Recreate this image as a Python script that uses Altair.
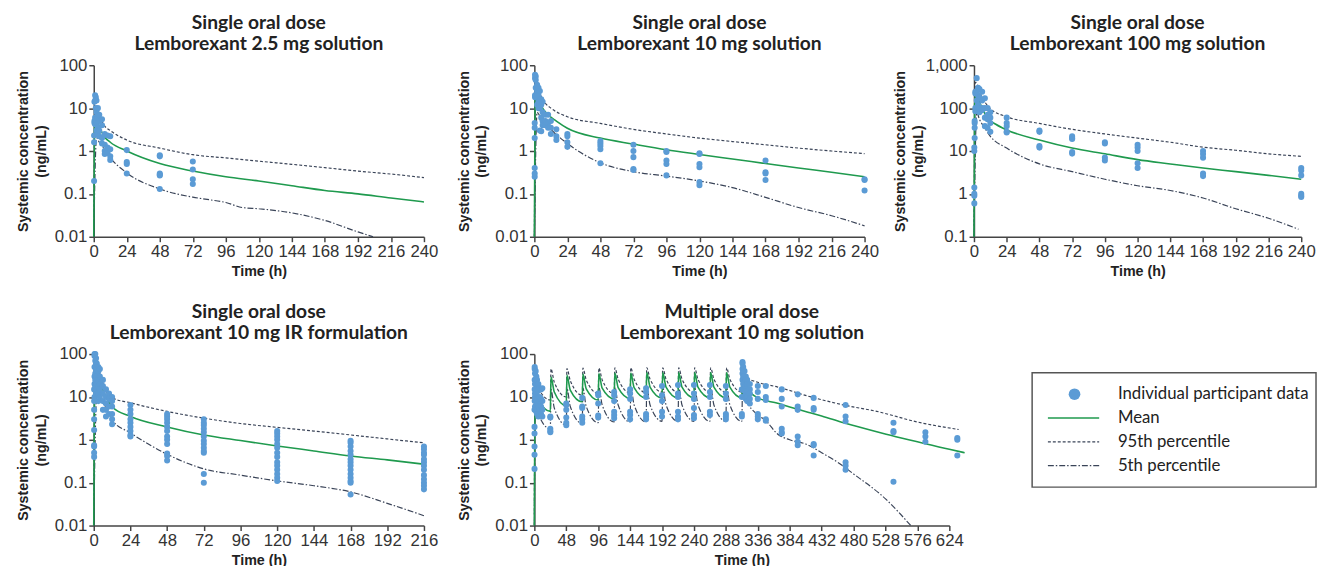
import altair as alt
import pandas as pd

BLUE = "#5b9bd5"
GREEN = "#1f9a4e"
DARK = "#3a4458"
DASH95 = [3, 2]
DASH5 = [6, 2, 1.5, 2]
LABEL_FONT = "Liberation Sans"
TITLE_FONT = "Lato"

# ---------------- Panel 1: 2.5 mg solution ----------------
P1_PT_T = [0.25, 0.5, 1, 1.5, 2, 3, 4, 6, 8, 10, 12, 24, 48, 72]
P1_PT_C = [
    [0.2, 1.6, 2.3], [5, 14, 4.5], [20, 15, 6, 4.2], [18, 10, 5.5],
    [15, 8, 4.5, 3], [10, 6, 3.5, 2.5], [7, 5, 3, 2.2], [5.5, 4, 2, 1.5],
    [2.5, 1.4, 1.0, 0.85], [2.3, 1.2, 0.9], [2.2, 1.1, 0.75, 0.62],
    [1.05, 0.55, 0.5, 0.3], [0.8, 0.75, 0.3, 0.28, 0.27, 0.13], [0.57, 0.37, 0.22, 0.17],
]
P1_MEAN_T = [0, 0.5, 1, 2, 4, 8, 12, 24, 48, 72, 96, 120, 144, 168, 192, 216, 240]
P1_MEAN_C = [0.01, 3, 5, 4.8, 3.6, 2.1, 1.6, 1.0, 0.51, 0.34, 0.25, 0.2, 0.155, 0.12, 0.1, 0.08, 0.065]
P1_P95_T = [0, 1, 2, 4, 8, 12, 24, 48, 72, 96, 120, 144, 168, 192, 216, 240]
P1_P95_C = [0.01, 10, 9, 6.5, 3.8, 3.0, 1.8, 1.17, 0.82, 0.69, 0.58, 0.49, 0.41, 0.34, 0.29, 0.24]
P1_P5_T = [0, 2, 4, 8, 12, 24, 48, 72, 84, 96, 108, 120, 144, 168, 192, 203]
P1_P5_C = [0.01, 2.0, 1.6, 1.07, 0.7, 0.31, 0.13, 0.084, 0.073, 0.063, 0.048, 0.045, 0.036, 0.024, 0.013, 0.01]

# ---------------- Panel 2: 10 mg solution ----------------
P2_PT_T = [0.25, 0.5, 1, 2, 3, 4, 5, 6, 8, 10, 12, 16, 24, 48, 72, 96, 120, 168, 240]
P2_PT_C = [
    [0.25, 0.3, 0.4, 2, 3.5, 4.5], [18, 50, 60, 20], [55, 45, 30, 20], [35, 25, 18, 12],
    [30, 20, 14, 10], [25, 15, 10, 3], [16, 12, 6, 2.9], [14, 8, 5, 4], [7, 5, 4],
    [7, 4.5, 3.5], [5, 3.5, 2.5], [3.2, 2.2, 1.8], [2.5, 2.2, 1.6, 1.25],
    [1.7, 1.5, 1.3, 1.1, 0.52], [1.4, 1.0, 0.72, 0.38, 0.36], [1.0, 0.95, 0.6, 0.5, 0.27],
    [0.88, 0.85, 0.5, 0.42, 0.19, 0.16], [0.6, 0.32, 0.3, 0.21], [0.22, 0.21, 0.12],
]
P2_MEAN_T = [0, 0.5, 1, 2, 4, 6, 10, 16, 24, 48, 72, 96, 120, 144, 168, 192, 216, 240]
P2_MEAN_C = [0.01, 15, 22, 20, 14, 10, 7, 5, 3.4, 2.0, 1.45, 1.07, 0.83, 0.65, 0.51, 0.4, 0.32, 0.25]
P2_P95_T = [0, 1, 2, 4, 8, 12, 24, 48, 72, 96, 120, 144, 168, 192, 216, 240]
P2_P95_C = [0.01, 40, 35, 22, 13, 10, 6.3, 4.4, 3.2, 2.5, 2.0, 1.66, 1.4, 1.17, 1.0, 0.87]
P2_P5_T = [0, 2, 4, 8, 12, 24, 48, 72, 96, 120, 144, 168, 192, 216, 240]
P2_P5_C = [0.01, 8, 6.5, 4.5, 3.2, 1.5, 0.53, 0.33, 0.26, 0.2, 0.14, 0.083, 0.048, 0.031, 0.018]

# ---------------- Panel 3: 100 mg solution ----------------
P3_PT_T = [0.25, 0.5, 1, 2, 3, 4, 6, 8, 10, 12, 24, 48, 72, 96, 120, 168, 240]
P3_PT_C = [
    [0.6, 0.9, 1.0, 1.4, 10, 12], [20, 35, 45, 50], [100, 220, 240, 85], [500, 250, 150, 90],
    [300, 200, 120, 85], [280, 180, 100, 80], [240, 150, 100, 90], [170, 100, 60, 38],
    [100, 70, 55, 35], [80, 60, 45, 28], [60, 45, 38, 28, 27], [30, 28, 13, 12],
    [22, 20, 19, 9.5, 8.7], [16, 15, 7, 6], [14, 12, 10, 5.2, 4], [10, 8.5, 7, 3, 2.6],
    [4, 3.5, 2.7, 1.0, 0.9, 0.85],
]
P3_MEAN_T = [0, 0.5, 1, 2, 4, 6, 10, 16, 24, 48, 72, 96, 120, 144, 168, 192, 216, 240]
P3_MEAN_C = [0.1, 120, 200, 190, 140, 100, 58, 42, 31, 18, 11.7, 8.6, 6.3, 5.0, 4.0, 3.3, 2.7, 2.2]
P3_P95_T = [0, 1, 2, 4, 8, 12, 24, 48, 72, 96, 120, 144, 168, 192, 216, 240]
P3_P95_C = [0.1, 400, 380, 250, 140, 97, 63, 44, 32, 25, 20, 16, 12.3, 10.4, 8.6, 7.5]
P3_P5_T = [0, 2, 4, 8, 12, 24, 48, 72, 96, 120, 144, 168, 192, 216, 238]
P3_P5_C = [0.1, 80, 55, 34, 22, 11.7, 5.0, 3.3, 2.2, 1.55, 1.2, 0.8, 0.45, 0.27, 0.15]

# ---------------- Panel 4: 10 mg IR formulation ----------------
P4_PT_T = [0.25, 0.5, 1, 1.5, 2, 3, 4, 6, 8, 10, 12, 24, 48, 72, 120, 168, 216]
P4_PT_C = [
    [0.4, 0.5, 0.7, 0.75, 1.7, 3, 5, 8, 15], [10, 20, 30, 50, 90, 100],
    [100, 70, 50, 35, 25, 18], [80, 60, 40, 20, 12], [60, 45, 30, 20, 15],
    [50, 40, 25, 18, 12, 8], [45, 30, 20, 15, 10], [25, 18, 12, 8, 5],
    [15, 10, 7, 5, 3.5], [12, 9, 6, 4], [10, 8, 6, 4, 3, 2.3],
    [6.5, 5, 4, 3, 2.5, 2, 1.6, 1.3, 1.2],
    [4, 3.5, 3, 2.5, 2, 1.6, 1.2, 1.0, 0.8, 0.48, 0.42, 0.33],
    [3, 2.5, 2.2, 1.8, 1.5, 1.2, 0.95, 0.8, 0.65, 0.55, 0.5, 0.16, 0.1],
    [1.6, 1.4, 1.2, 1.0, 0.8, 0.65, 0.5, 0.4, 0.3, 0.25, 0.2, 0.16, 0.13, 0.11],
    [0.95, 0.85, 0.7, 0.55, 0.45, 0.35, 0.3, 0.25, 0.2, 0.16, 0.13, 0.11, 0.1, 0.053],
    [0.7, 0.6, 0.5, 0.45, 0.35, 0.3, 0.25, 0.2, 0.15, 0.12, 0.1, 0.085, 0.07],
]
P4_MEAN_T = [0, 0.5, 1, 2, 4, 8, 12, 24, 48, 72, 96, 120, 144, 168, 192, 216]
P4_MEAN_C = [0.01, 30, 40, 35, 22, 10, 5.9, 3.5, 2.0, 1.3, 0.96, 0.72, 0.55, 0.42, 0.34, 0.27]
P4_P95_T = [0, 1, 2, 4, 8, 12, 24, 48, 72, 96, 120, 144, 168, 192, 216]
P4_P95_C = [0.01, 80, 65, 35, 14, 9.6, 7.3, 4.6, 3.2, 2.4, 1.95, 1.6, 1.3, 1.05, 0.85]
P4_P5_T = [0, 2, 4, 8, 12, 24, 48, 72, 96, 120, 144, 168, 192, 216]
P4_P5_C = [0.01, 12, 9.6, 5.5, 2.9, 1.45, 0.46, 0.21, 0.15, 0.11, 0.085, 0.061, 0.033, 0.017]

# ---------------- Panel 5: multiple dose 10 mg solution ----------------
MD_DOSE_T = [0, 24, 48, 72, 96, 120, 144, 168, 192, 216, 240, 264, 288, 312]
MD_MEAN_PRE = [0.01, 4.6, 6.2, 7.7, 8.5, 9.0, 9.2, 9.4, 9.5, 9.5, 9.6, 9.6, 9.6, 9.6]
MD_MEAN_PEAK = [22, 29, 32, 34, 35, 36, 36, 37, 37, 37, 37, 37, 37, 38]
MD_MEAN_MID = [9, 13, 14.5, 15.5, 16, 16.5, 16.5, 17, 17, 17, 17, 17, 17]
MD_MEAN_WASH_T = [317, 336, 366, 384, 416, 432, 465, 480, 529, 576, 624, 647]
MD_MEAN_WASH_C = [20, 9.5, 7.1, 5.8, 4.2, 3.6, 2.5, 2.15, 1.35, 0.9, 0.6, 0.5]

MD_P95_PRE = [0.01, 8.5, 10, 11, 12, 12, 12.5, 12.5, 13, 13, 13, 13, 13, 13]
MD_P95_PEAK = [40, 45, 46, 47, 47, 48, 48, 48, 48, 48, 48, 48, 48, 48]
MD_P95_MID = [16, 22, 24, 25, 25, 26, 26, 26, 26, 26, 26, 26, 26]
MD_P95_WASH_T = [318, 336, 366, 416, 465, 515, 576, 638]
MD_P95_WASH_C = [29, 22, 17, 10, 6.5, 4.6, 2.6, 1.74]

MD_P5_PRE = [0.01, 1.8, 2.2, 2.4, 2.5, 2.6, 2.6, 2.6, 2.7, 2.7, 2.7, 2.7, 2.7, 2.7]
MD_P5_PEAK = [12, 15, 16, 16, 17, 17, 17, 17, 17, 17, 17, 17, 17, 17]
MD_P5_MID = [4, 5.5, 6, 6, 6.5, 6.5, 6.5, 6.5, 6.5, 6.5, 6.5, 6.5, 6.5]
MD_P5_WASH_T = [317, 336, 347, 366, 384, 408, 432, 456, 480, 528, 566]
MD_P5_WASH_C = [10, 3.8, 2.9, 1.35, 1.0, 0.8, 0.5, 0.3, 0.16, 0.042, 0.01]

P5_PT_T = [0.25, 0.5, 1, 2, 3, 4, 6, 8, 10, 12, 24, 48, 72, 96, 120, 144, 168, 192, 216,
           240, 264, 288, 312, 313, 314, 316, 318, 320, 324, 336, 348, 372, 396, 420, 468,
           540, 588, 636]
P5_PT_C = [
    [0.21, 0.45, 0.7, 1.4, 2.0, 5], [8, 15, 25, 45, 50], [35, 20, 12, 10, 6],
    [40, 25, 15, 9, 5], [30, 20, 12, 8, 4.5], [25, 15, 10, 7, 4], [20, 14, 9, 6, 3.5],
    [16, 10, 8, 5], [15, 9, 6, 4], [16, 8, 5, 3.5],
    [3.5, 3.3, 1.8, 1.6, 1.5], [7, 6.5, 5, 3.3, 2.5, 2.2], [9.5, 6, 5.5, 3.5, 3, 2.5],
    [12, 11, 7, 3.7, 3.3], [13, 11, 8, 4.5, 3.8, 3.2], [15, 12, 9, 4.5, 3.8, 3],
    [16, 13, 10, 4, 3.5, 3], [18, 11, 8, 4.5, 3.5], [19, 12, 10, 4.5, 3.5, 3],
    [19, 12, 9, 5.5, 3.8, 3.2], [19, 13, 10, 4.5, 3.8], [18, 12, 9, 4, 3.5, 3],
    [4, 3.5, 10, 15], [65, 60, 45, 35, 25], [50, 40, 30, 20, 15], [40, 30, 22, 14, 10],
    [30, 25, 18, 12, 9], [25, 20, 14, 10, 8], [20, 15, 12, 9, 7],
    [18, 13, 9, 4, 3.5, 3], [18, 10, 8.5, 3, 2.8], [15, 9, 6, 1.8, 1.5, 1.4],
    [11.5, 6, 5, 1.2, 0.9, 0.75], [9.5, 5.5, 5, 0.8, 0.75, 0.43], [6.5, 3.5, 2.7, 0.3, 0.25, 0.2],
    [2.5, 1.6, 1.5, 0.105], [1.5, 1.2, 0.9], [1.1, 1.0, 0.43],
]

LEGEND_LABELS = ["Individual participant data", "Mean", "95th percentile", "5th percentile"]


def md_series(pre, peak, mid, wash_t, wash_c):
    t, c = [], []
    for i, d in enumerate(MD_DOSE_T):
        t.append(d); c.append(pre[i])
        t.append(d + 1); c.append(peak[i])
        if i < len(mid):
            t.append(d + 6); c.append(mid[i])
    return t + wash_t, c + wash_c


def panel(title, pts_t, pts_c, mean, p95, p5, xmax, xstep, ydom, yticks, width, tpad=6):
    pts = pd.DataFrame([{"t": t, "c": c} for t, cs in zip(pts_t, pts_c) for c in cs])
    X = alt.X("t:Q", scale=alt.Scale(domain=[0, xmax], nice=False, zero=False),
              axis=alt.Axis(values=list(range(0, xmax + 1, xstep)), title="Time (h)",
                            labelOverlap=False, labelFlush=False))
    Y = alt.Y("c:Q", scale=alt.Scale(type="log", domain=ydom, nice=False),
              axis=alt.Axis(values=yticks, format=",", labelOverlap=False, labelFlush=False,
                            title=["Systemic concentration", "(ng/mL)"], titlePadding=tpad,
                            titleLineHeight=18))

    def line(tc, color, dash, sw):
        df = pd.DataFrame({"t": tc[0], "c": tc[1]})
        kw = dict(color=color, strokeWidth=sw, interpolate="monotone")
        if dash:
            kw["strokeDash"] = dash
        return alt.Chart(df).mark_line(**kw).encode(x=X, y=Y)

    layers = [
        line(p95, DARK, DASH95, 1.2),
        line(p5, DARK, DASH5, 1.2),
        line(mean, GREEN, None, 1.6),
        alt.Chart(pts).mark_circle(size=38, color=BLUE, opacity=1).encode(x=X, y=Y),
    ]
    return alt.layer(*layers).properties(width=width, height=174, title=alt.TitleParams(title))


Y4 = [0.01, 0.1, 1, 10, 100]
Y3 = [0.1, 1, 10, 100, 1000]

p1 = panel(["Single oral dose", "Lemborexant 2.5 mg solution"], P1_PT_T, P1_PT_C,
           (P1_MEAN_T, P1_MEAN_C), (P1_P95_T, P1_P95_C), (P1_P5_T, P1_P5_C),
           240, 24, [0.01, 100], Y4, 335)
p2 = panel(["Single oral dose", "Lemborexant 10 mg solution"], P2_PT_T, P2_PT_C,
           (P2_MEAN_T, P2_MEAN_C), (P2_P95_T, P2_P95_C), (P2_P5_T, P2_P5_C),
           240, 24, [0.01, 100], Y4, 335)
p3 = panel(["Single oral dose", "Lemborexant 100 mg solution"], P3_PT_T, P3_PT_C,
           (P3_MEAN_T, P3_MEAN_C), (P3_P95_T, P3_P95_C), (P3_P5_T, P3_P5_C),
           240, 24, [0.1, 1000], Y3, 332, tpad=0)
p4 = panel(["Single oral dose", "Lemborexant 10 mg IR formulation"], P4_PT_T, P4_PT_C,
           (P4_MEAN_T, P4_MEAN_C), (P4_P95_T, P4_P95_C), (P4_P5_T, P4_P5_C),
           216, 24, [0.01, 100], Y4, 335)
p5 = panel(["Multiple oral dose", "Lemborexant 10 mg solution"], P5_PT_T, P5_PT_C,
           md_series(MD_MEAN_PRE, MD_MEAN_PEAK, MD_MEAN_MID, MD_MEAN_WASH_T, MD_MEAN_WASH_C),
           md_series(MD_P95_PRE, MD_P95_PEAK, MD_P95_MID, MD_P95_WASH_T, MD_P95_WASH_C),
           md_series(MD_P5_PRE, MD_P5_PEAK, MD_P5_MID, MD_P5_WASH_T, MD_P5_WASH_C),
           624, 48, [0.01, 100], Y4, 421)

# ---------------- Legend ----------------
leg_df = pd.DataFrame({"label": LEGEND_LABELS})
LY = alt.Y("label:N", sort=LEGEND_LABELS, axis=None, scale=alt.Scale(type="point", padding=0.9))
lbase = alt.Chart(leg_df)
leg_text = lbase.mark_text(align="left", baseline="middle", font=TITLE_FONT, fontSize=17,
                           color="#222").encode(x=alt.value(87), y=LY, text="label:N")
leg_dot = lbase.transform_filter(alt.datum.label == LEGEND_LABELS[0]).mark_circle(
    size=140, color=BLUE, opacity=1).encode(x=alt.value(43), y=LY)


def leg_key(lbl, color, dash, sw):
    kw = dict(color=color, strokeWidth=sw)
    if dash:
        kw["strokeDash"] = dash
    return lbase.transform_filter(alt.datum.label == lbl).mark_rule(**kw).encode(
        x=alt.value(16), x2=alt.value(68), y=LY)


legend_box = alt.layer(
    leg_text, leg_dot,
    leg_key(LEGEND_LABELS[1], GREEN, None, 1.6),
    leg_key(LEGEND_LABELS[2], DARK, DASH95, 1.2),
    leg_key(LEGEND_LABELS[3], DARK, DASH5, 1.2),
).properties(width=288, height=116,
             view=alt.ViewBackground(stroke="#555", strokeWidth=1.5))

spacer = alt.Chart(pd.DataFrame({"s": [""]})).mark_text().encode(text="s:N").properties(
    width=1, height=1)
legend = alt.vconcat(spacer, legend_box, spacing=12)

row1 = alt.hconcat(alt.hconcat(p1, p2, spacing=17), p3, spacing=13)
row2 = alt.hconcat(alt.hconcat(p4, p5, spacing=17), legend, spacing=64)

chart = alt.vconcat(row1, row2, spacing=24).properties(
    padding={"left": 7, "top": 1, "right": 0, "bottom": 0}
).configure_view(stroke=None).configure_axis(
    labelFont=LABEL_FONT, labelFontSize=17, labelColor="#333",
    titleFont=LABEL_FONT, titleFontSize=14.5, titleFontWeight="bold", titleColor="#222",
    domainColor="#444", domainWidth=1.5, tickColor="#444", tickWidth=1.5, tickSize=5,
    grid=False, labelPadding=2, labelFlush=False,
).configure_axisX(titlePadding=5).configure_title(
    font=TITLE_FONT, fontSize=19.5, fontWeight="bold", color="#222", lineHeight=21,
    anchor="middle", frame="group", offset=2,
)

chart.save("out.html", embed_options={"renderer": "svg", "actions": False})
